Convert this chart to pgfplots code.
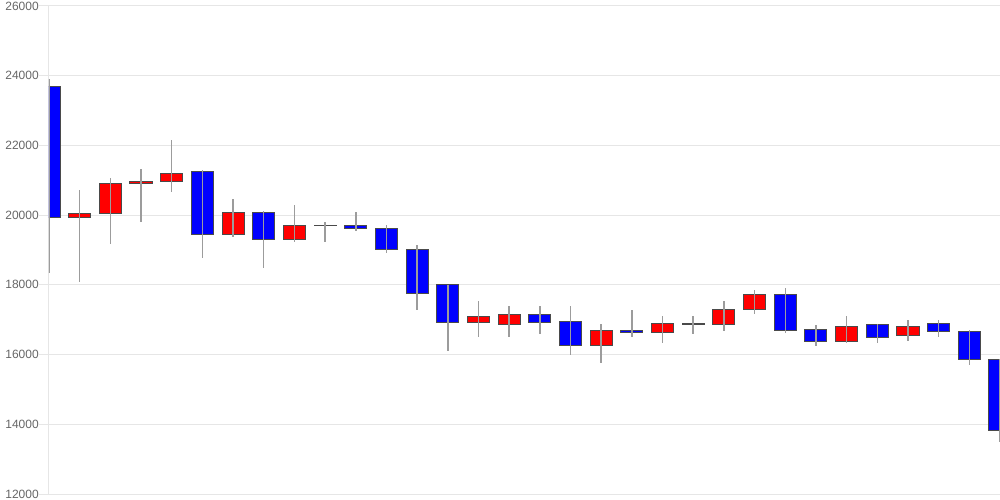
\documentclass[border=0pt]{standalone}
\usepackage{fontspec}
\setmainfont{Liberation Sans}
\usepackage{pgfplots}
\pgfplotsset{compat=1.18}
\usepackage{pgfplotstable}
\definecolor{gridc}{HTML}{E6E6E6}
\definecolor{labc}{HTML}{666666}
\definecolor{wick}{HTML}{9C9C9C}
\definecolor{edge}{HTML}{4A4A4A}
\definecolor{cred}{HTML}{FF0000}
\definecolor{cblue}{HTML}{0000FF}

\pgfplotstableread{
i  open  high  low   close
0  23695 23896 18330 19934
1  19934 20709 18085 20057
2  20049 21054 19176 20919
3  20910 21312 19808 20967
4  20957 22153 20660 21197
5  21254 21292 18780 19445
6  19445 20468 19377 20086
7  20086 20115 18487 19302
8  19302 20287 19234 19704
9  19700 19799 19240 19706
10 19704 20086 19541 19607
11 19618 19713 18909 19015
12 19015 19139 17281 17741
13 17999 18010 16104 16917
14 16917 17531 16497 17092
15 16851 17387 16497 17149
16 17149 17387 16604 16928
17 16937 17387 16000 16248
18 16248 16890 15760 16698
19 16698 17273 16490 16645
20 16641 17101 16325 16899
21 16905 17120 16592 16870
22 16851 17531 16680 17302
23 17282 17847 17158 17732
24 17732 17904 16621 16698
25 16718 16842 16248 16373
26 16373 17101 16345 16813
27 16861 16870 16335 16488
28 16535 17005 16392 16804
29 16899 16985 16497 16660
30 16660 16718 15702 15866
31 15866 15880 13493 13828
}\candles

\begin{document}
\begin{tikzpicture}
\begin{axis}[
  scale only axis,
  width=713.25pt, height=366pt,
  xmin=0, xmax=31, ymin=12000, ymax=26000,
  ytick={12000,14000,...,26000},
  xtick=\empty,
  ymajorgrids,
  grid style={gridc, line width=0.75pt},
  axis x line=none,
  axis y line*=left,
  y axis line style={gridc, line width=0.75pt},
  tick align=outside,
  major tick length=7.5pt,
  ytick style={gridc, line width=0.75pt},
  yticklabel style={font=\fontsize{9}{10}\selectfont, text=labc, anchor=east, inner sep=0pt,
    /pgf/number format/1000 sep={}, /pgf/number format/assume math mode=true},
  scaled y ticks=false,
  ybar stacked,
  bar width=0.72,
]
\addplot[draw=none, fill=none,
  error bars/.cd, y dir=both, y explicit, error mark=none,
  error bar style={draw=wick, line width=1.1pt}]
  table[x=i, y expr={min(\thisrow{open},\thisrow{close})},
        y error plus expr={\thisrow{high}-min(\thisrow{open},\thisrow{close})},
        y error minus expr={min(\thisrow{open},\thisrow{close})-\thisrow{low}}] {\candles};
\addplot[fill=cred, draw=edge, line width=0.75pt]
  table[x=i, y expr={max(\thisrow{close}-\thisrow{open},0)}] {\candles};
\addplot[fill=cblue, draw=edge, line width=0.75pt]
  table[x=i, y expr={max(\thisrow{open}-\thisrow{close},0)}] {\candles};
\end{axis}
\pgfresetboundingbox
\path[use as bounding box] (-36.75pt,-4.5pt) rectangle (713.25pt,370.5pt);
\end{tikzpicture}
\end{document}
